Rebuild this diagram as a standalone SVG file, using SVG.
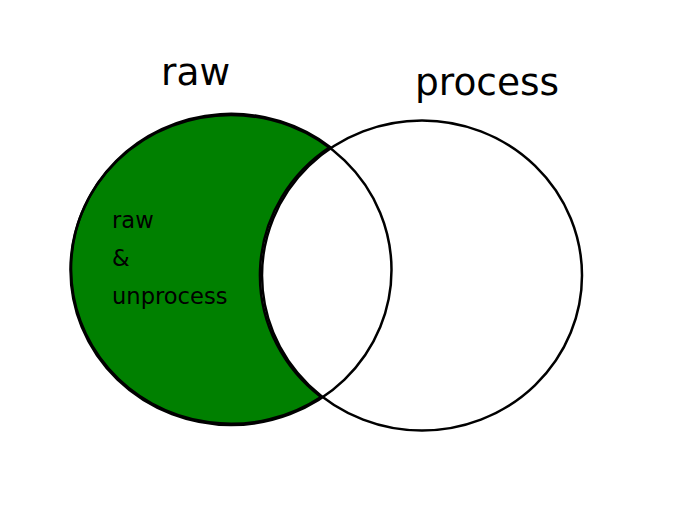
<svg xmlns="http://www.w3.org/2000/svg" width="700" height="520" viewBox="0 0 700 520">
<style>
.outline{fill:none;stroke:#000;stroke-width:2.5}
.title{font-family:"DejaVu Sans",sans-serif;font-size:37.5px;fill:#000}
.lbl{font-family:"DejaVu Sans",sans-serif;font-size:22.6px;fill:#000}
</style>
<rect width="700" height="520" fill="#fff"/>
<g id="raw-only">
<path d="M 330 147 A 160 155 0 1 0 321 397 A 160 155 0 0 1 330 147 Z" fill="#008000" stroke="#000" stroke-width="2.5"/>
</g>
<g id="raw">
<ellipse class="outline" cx="231" cy="270" rx="160.5" ry="155"/>
<text class="title" x="161" y="85">raw</text>
</g>
<g id="process">
<ellipse class="outline" cx="422" cy="275.5" rx="160" ry="155"/>
<text class="title" x="415" y="95">process</text>
</g>
<g id="label">
<text class="lbl" x="112" y="228">raw</text>
<text class="lbl" x="112" y="266">&amp;</text>
<text class="lbl" x="112" y="304">unprocess</text>
</g>
</svg>
